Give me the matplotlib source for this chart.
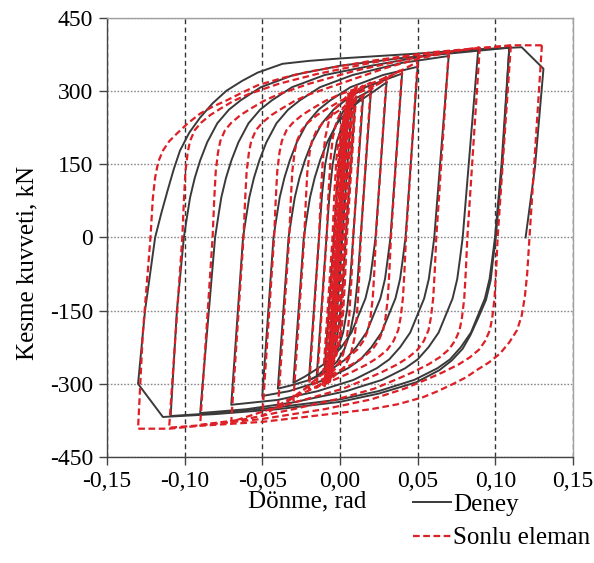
import matplotlib
matplotlib.use('Agg')
import matplotlib.pyplot as plt
from matplotlib.lines import Line2D

plt.rcParams['font.family'] = ['Liberation Serif', 'DejaVu Serif']

# ---------------- Deney (experiment) loops: rotation (rad), shear force (kN)
deney_00375_x = [0.0038, -0.0002, -0.0037, 0.0003, 0.0038]
deney_00375_y = [190, 5, -185, 0, 190]
deney_005_x = [0.005, 0.0005, -0.003, -0.005, -0.0005, 0.003, 0.005]
deney_005_y = [235, 20, -190, -230, -20, 195, 235]
deney_0075_x = [0.0075, 0.0015, -0.0018, -0.0045, -0.0075, -0.0015, 0.0018, 0.0045, 0.0075]
deney_0075_y = [270, 0, -150, -225, -262, 0, 150, 230, 270]
deney_01_x = [0.010, 0.0037, 0.0015, -0.0005, -0.003, -0.0065, -0.010, -0.0039, -0.0017, 0.0003, 0.003, 0.0065, 0.010]
deney_01_y = [285, 0, -110, -175, -220, -255, -275, 0, 110, 175, 222, 262, 285]
deney_015_x = [0.015, 0.0085, 0.0065, 0.0045, 0.002, -0.001, -0.005, -0.010, -0.015, -0.0087, -0.0067, -0.0047, -0.002, 0.001, 0.005, 0.010, 0.015]
deney_015_y = [292, 0, -90, -150, -195, -225, -250, -270, -285, 0, 90, 150, 197, 225, 252, 275, 292]
deney_02_x = [0.020, 0.0133, 0.0113, 0.0093, 0.0065, 0.003, -0.002, -0.010, -0.020, -0.0135, -0.0115, -0.0095, -0.0067, -0.003, 0.002, 0.010, 0.020]
deney_02_y = [302, 0, -90, -150, -195, -228, -255, -278, -292, 0, 90, 150, 197, 228, 258, 285, 302]
deney_03_x = [0.030, 0.0229, 0.0211, 0.0194, 0.0164, 0.0119, 0.0074, 0.0009, -0.0061, -0.0141, -0.0225, -0.030,
              -0.0233, -0.0213, -0.0193, -0.0163, -0.0128, -0.0083, -0.0018, 0.0057, 0.0132, 0.0220, 0.030]
deney_03_y = [318, 0, -45, -85, -125, -160, -195, -225, -250, -268, -285, -298,
              0, 42, 82, 122, 158, 195, 234, 262, 281, 300, 318]
deney_04_x = [0.040, 0.0325, 0.0307, 0.029, 0.026, 0.0215, 0.017, 0.0105, 0.0035, -0.0045, -0.0195, -0.030, -0.040,
              -0.0331, -0.0311, -0.0291, -0.0261, -0.0226, -0.0181, -0.0116, -0.0041, 0.0034, 0.0164, 0.028, 0.040]
deney_04_y = [336, 0, -45, -85, -125, -160, -195, -225, -250, -268, -292, -302, -310,
              0, 42, 82, 122, 158, 195, 234, 262, 281, 308, 322, 336]
deney_05_x = [0.050, 0.0422, 0.0404, 0.0387, 0.0357, 0.0312, 0.0267, 0.0202, 0.0132, 0.0052, -0.0098, -0.0328, -0.050,
              -0.0428, -0.0408, -0.0388, -0.0358, -0.0323, -0.0278, -0.0213, -0.0138, -0.0063, 0.0067, 0.0277, 0.050]
deney_05_y = [350, 0, -45, -85, -125, -160, -195, -225, -250, -268, -292, -315, -325,
              0, 42, 82, 122, 158, 195, 234, 262, 281, 308, 333, 350]
deney_07_x = [0.070, 0.0607, 0.0589, 0.0572, 0.0542, 0.0497, 0.0452, 0.0387, 0.0317, 0.0237, 0.0087, -0.0143, -0.040, -0.070,
              -0.0624, -0.0604, -0.0584, -0.0554, -0.0519, -0.0474, -0.0409, -0.0334, -0.0259, -0.0129, 0.0081, 0.040, 0.070]
deney_07_y = [372, 0, -45, -85, -125, -160, -195, -225, -250, -268, -292, -315, -333, -343,
              0, 42, 82, 122, 158, 195, 234, 262, 281, 308, 333, 358, 372]
deney_09_x = [0.089, 0.079, 0.0772, 0.0755, 0.0725, 0.068, 0.0635, 0.057, 0.050, 0.042, 0.027, 0.004, -0.030, -0.060, -0.090,
              -0.0804, -0.0784, -0.0764, -0.0734, -0.0699, -0.0654, -0.0589, -0.0514, -0.0439, -0.0309, -0.0099, 0.020, 0.060, 0.089]
deney_09_y = [386, 0, -45, -85, -125, -160, -195, -225, -250, -268, -292, -315, -338, -352, -360,
              0, 42, 82, 122, 158, 195, 234, 262, 281, 308, 333, 352, 375, 386]
deney_11_x = [0.109, 0.104, 0.0998, 0.098, 0.0963, 0.0933, 0.0888, 0.0843, 0.0778, 0.0708, 0.0628, 0.0478, 0.0248, 0.0, -0.040, -0.080, -0.109,
              -0.105, -0.1005, -0.0985, -0.0965, -0.0935, -0.090, -0.0855, -0.079, -0.0715, -0.064, -0.051, -0.030, 0.0, 0.040, 0.080, 0.109]
deney_11_y = [389, 150, 0, -45, -85, -125, -160, -195, -225, -250, -268, -292, -315, -332, -348, -360, -366,
              -150, 0, 42, 82, 122, 158, 195, 234, 262, 281, 308, 333, 352, 368, 380, 389]
deney_13_x = [0.109, 0.1045, 0.1003, 0.0985, 0.097, 0.094, 0.089, 0.084, 0.079, 0.072, 0.064, 0.049, 0.025, 0.0, -0.040, -0.080, -0.114,
              -0.130, -0.1255, -0.119, -0.115, -0.111, -0.107, -0.103, -0.097, -0.090, -0.082, -0.073, -0.063, -0.053, -0.037, -0.020,
              0.0, 0.050, 0.090, 0.117, 0.131, 0.1255, 0.1195]
deney_13_y = [389, 150, 0, -46, -88, -128, -165, -200, -228, -252, -272, -297, -320, -337, -352, -362, -368,
              -300, -150, 0, 50, 96, 140, 178, 215, 246, 275, 301, 321, 338, 356, 362,
              367, 377, 386, 390, 346, 143, 0]

# ---------------- Sonlu eleman (finite element) loops
sonlu_00375_x = [0.00375, 0.0, -0.00375, 0.0, 0.00375]
sonlu_00375_y = [200, 15, -195, -12, 200]
sonlu_005_x = [0.005, 0.0003, -0.0025, -0.005, -0.0003, 0.0025, 0.005]
sonlu_005_y = [262, 30, -170, -258, -28, 170, 262]
sonlu_005b_x = [0.0045, -0.0003, -0.003, -0.0058, -0.0009, 0.0019, 0.0045]
sonlu_005b_y = [258, 30, -170, -262, -28, 170, 258]
sonlu_005c_x = [0.0035, -0.0012, -0.004, -0.0065, -0.0018, 0.001, 0.0035]
sonlu_005c_y = [255, 30, -170, -262, -28, 170, 255]
sonlu_0075_x = [0.0075, 0.0013, 0.0, -0.0012, -0.004, -0.0075, -0.0013, 0.0, 0.0012, 0.004, 0.0075]
sonlu_0075_y = [300, 0, -75, -150, -235, -298, 0, 75, 152, 237, 300]
sonlu_0075b_x = [0.0085, 0.0023, 0.001, -0.0002, -0.003, -0.0065, -0.0003, 0.001, 0.0022, 0.005, 0.0085]
sonlu_0075b_y = [302, 0, -75, -150, -235, -296, 0, 75, 152, 237, 302]
sonlu_0075c_x = [0.0055, -0.0007, -0.002, -0.0032, -0.006, -0.0095, -0.0033, -0.002, -0.0008, 0.002, 0.0055]
sonlu_0075c_y = [296, 0, -75, -150, -235, -300, 0, 75, 152, 237, 296]
sonlu_0075d_x = [0.0065, 0.0003, -0.001, -0.0022, -0.005, -0.0085, -0.0023, -0.001, 0.0002, 0.003, 0.0065]
sonlu_0075d_y = [298, 0, -75, -150, -235, -302, 0, 75, 152, 237, 298]
sonlu_01_x = [0.010, 0.0036, 0.0024, 0.0011, -0.0005, -0.003, -0.0065, -0.010, -0.0036, -0.0024, -0.0011, 0.0005, 0.003, 0.0065, 0.010]
sonlu_01_y = [308, 0, -90, -160, -205, -240, -272, -305, 0, 90, 160, 205, 242, 275, 308]
sonlu_01b_x = [0.0088, 0.0024, 0.0012, -0.0001, -0.0017, -0.0042, -0.0077, -0.0112, -0.0048, -0.0036, -0.0023, -0.0007, 0.0018, 0.0053, 0.0088]
sonlu_01b_y = [300, 0, -90, -160, -205, -240, -272, -302, 0, 90, 160, 205, 242, 275, 300]
sonlu_01c_x = [0.0108, 0.0044, 0.0032, 0.0019, 0.0003, -0.0022, -0.0057, -0.0092, -0.0028, -0.0016, -0.0003, 0.0013, 0.0038, 0.0073, 0.0108]
sonlu_01c_y = [312, 0, -90, -160, -205, -240, -272, -300, 0, 90, 160, 205, 242, 275, 312]
sonlu_015_x = [0.015, 0.0085, 0.0073, 0.006, 0.0045, 0.002, -0.002, -0.008, -0.015, -0.0086, -0.0074, -0.0061, -0.0046, -0.002, 0.002, 0.008, 0.015]
sonlu_015_y = [312, 0, -90, -160, -205, -240, -265, -288, -308, 0, 90, 160, 205, 240, 265, 290, 312]
sonlu_02_x = [0.020, 0.0134, 0.0122, 0.0109, 0.0094, 0.0069, 0.0029, -0.004, -0.012, -0.020,
              -0.0135, -0.0123, -0.011, -0.0095, -0.007, -0.003, 0.004, 0.012, 0.020]
sonlu_02_y = [318, 0, -90, -160, -205, -240, -265, -285, -300, -313,
              0, 90, 160, 205, 240, 265, 288, 304, 318]
sonlu_03_x = [0.030, 0.0231, 0.0221, 0.0211, 0.0196, 0.0181, 0.0151, 0.0111, 0.0051, -0.002, -0.012, -0.021, -0.030,
              -0.023, -0.022, -0.021, -0.0195, -0.018, -0.015, -0.011, -0.005, 0.002, 0.011, 0.020, 0.030]
sonlu_03_y = [330, 0, -70, -125, -165, -190, -212, -230, -246, -262, -282, -305, -334,
              0, 75, 135, 175, 198, 220, 235, 251, 266, 283, 303, 330]
sonlu_04_x = [0.040, 0.0328, 0.0318, 0.0308, 0.0293, 0.0278, 0.0248, 0.0208, 0.0148, 0.0078, -0.0022, -0.0122, -0.025, -0.040,
              -0.0327, -0.0317, -0.0307, -0.0292, -0.0277, -0.0247, -0.0207, -0.0147, -0.0077, 0.0003, 0.0093, 0.025, 0.040]
sonlu_04_y = [345, 0, -70, -125, -165, -190, -212, -230, -246, -260, -276, -292, -315, -352,
              0, 75, 135, 175, 198, 220, 235, 251, 265, 280, 293, 315, 345]
sonlu_05_x = [0.050, 0.0425, 0.0415, 0.0405, 0.039, 0.0375, 0.0345, 0.0305, 0.0245, 0.0175, 0.0075, -0.0025, -0.0175, -0.035, -0.050,
              -0.0424, -0.0414, -0.0404, -0.0389, -0.0374, -0.0344, -0.0304, -0.0244, -0.0174, -0.0094, -0.0004, 0.0196, 0.035, 0.050]
sonlu_05_y = [360, 0, -70, -125, -165, -190, -212, -230, -246, -260, -276, -290, -310, -335, -366,
              0, 75, 135, 175, 198, 220, 235, 251, 265, 280, 293, 315, 335, 360]
sonlu_07_x = [0.070, 0.062, 0.061, 0.060, 0.0585, 0.057, 0.054, 0.050, 0.044, 0.037, 0.027, 0.017, 0.002, -0.020, -0.045, -0.070,
              -0.0621, -0.0611, -0.0601, -0.0586, -0.0571, -0.0541, -0.0501, -0.0441, -0.0371, -0.0291, -0.0201, -0.0001, 0.030, 0.050, 0.070]
sonlu_07_y = [380, 0, -70, -125, -165, -190, -212, -230, -246, -260, -276, -290, -310, -330, -352, -378,
              0, 75, 135, 175, 198, 220, 235, 251, 265, 280, 293, 315, 348, 366, 380]
sonlu_09_x = [0.090, 0.082, 0.081, 0.080, 0.0785, 0.077, 0.074, 0.070, 0.064, 0.057, 0.047, 0.037, 0.022, 0.0, -0.030, -0.060, -0.090,
              -0.082, -0.081, -0.080, -0.0785, -0.077, -0.074, -0.070, -0.064, -0.057, -0.049, -0.040, -0.020, 0.010, 0.050, 0.090]
sonlu_09_y = [390, 0, -70, -125, -165, -190, -212, -230, -246, -260, -276, -290, -310, -330, -352, -372, -384,
              0, 75, 135, 175, 198, 220, 235, 251, 265, 280, 293, 315, 342, 370, 390]
sonlu_11_x = [0.110, 0.1015, 0.1005, 0.0995, 0.098, 0.0965, 0.0935, 0.0895, 0.0835, 0.0765, 0.0665, 0.0565, 0.0415, 0.020, -0.010, -0.050, -0.090, -0.110,
              -0.1015, -0.1005, -0.0995, -0.098, -0.0965, -0.0935, -0.0895, -0.0835, -0.0765, -0.0685, -0.0595, -0.0395, -0.015, 0.020, 0.050, 0.090, 0.110]
sonlu_11_y = [393, 0, -70, -125, -165, -190, -212, -230, -246, -260, -276, -290, -310, -332, -352, -372, -385, -390,
              0, 75, 135, 175, 198, 220, 235, 251, 265, 280, 293, 315, 335, 358, 375, 388, 393]
sonlu_13_x = [0.130, 0.122, 0.1205, 0.119, 0.117, 0.114, 0.109, 0.103, 0.096, 0.088, 0.081, 0.073, 0.063, 0.053, 0.037, 0.020, -0.020, -0.050, -0.090, -0.110, -0.130,
              -0.127, -0.122, -0.1205, -0.119, -0.117, -0.114, -0.110, -0.105, -0.098, -0.090, -0.082, -0.073, -0.063, -0.053, -0.037, -0.020, 0.020, 0.060, 0.100, 0.110, 0.130]
sonlu_13_y = [394, 0, -75, -122, -160, -190, -215, -238, -256, -272, -287, -300, -315, -328, -342, -352, -367, -378, -386, -392, -392,
              -200, 0, 80, 123, 155, 178, 197, 213, 234, 254, 268, 281, 297, 312, 327, 340, 362, 380, 391, 394, 394]

x_ticks = [-0.15, -0.10, -0.05, 0.00, 0.05, 0.10, 0.15]
x_tick_labels = ['-0,15', '-0,10', '-0,05', '0,00', '0,05', '0,10', '0,15']
y_ticks = [-450, -300, -150, 0, 150, 300, 450]
y_tick_labels = ['-450', '-300', '-150', '0', '150', '300', '450']
x_label = 'Dönme, rad'
y_label = 'Kesme kuvveti, kN'
legend_labels = ['Deney', 'Sonlu eleman']

deney_loops = [
    (deney_00375_x, deney_00375_y), (deney_005_x, deney_005_y), (deney_0075_x, deney_0075_y),
    (deney_01_x, deney_01_y), (deney_015_x, deney_015_y), (deney_02_x, deney_02_y),
    (deney_03_x, deney_03_y), (deney_04_x, deney_04_y), (deney_05_x, deney_05_y),
    (deney_07_x, deney_07_y), (deney_09_x, deney_09_y), (deney_11_x, deney_11_y),
    (deney_13_x, deney_13_y),
]
sonlu_loops = [
    (sonlu_00375_x, sonlu_00375_y), (sonlu_005_x, sonlu_005_y), (sonlu_005b_x, sonlu_005b_y),
    (sonlu_005c_x, sonlu_005c_y),
    (sonlu_0075_x, sonlu_0075_y), (sonlu_0075b_x, sonlu_0075b_y), (sonlu_0075c_x, sonlu_0075c_y),
    (sonlu_0075d_x, sonlu_0075d_y),
    (sonlu_01_x, sonlu_01_y), (sonlu_01b_x, sonlu_01b_y), (sonlu_01c_x, sonlu_01c_y),
    (sonlu_015_x, sonlu_015_y),
    (sonlu_02_x, sonlu_02_y), (sonlu_03_x, sonlu_03_y), (sonlu_04_x, sonlu_04_y),
    (sonlu_05_x, sonlu_05_y), (sonlu_07_x, sonlu_07_y), (sonlu_09_x, sonlu_09_y),
    (sonlu_11_x, sonlu_11_y), (sonlu_13_x, sonlu_13_y),
]

BLACK = '#3a3a3a'
RED = '#dd1f26'
RED_DASH = (0, (3.0, 1.6))

fig = plt.figure(figsize=(5.94, 5.63), dpi=100)
ax = fig.add_axes([0.1801, 0.1883, 0.7845, 0.7798])
ax.set_xlim(-0.15, 0.15)
ax.set_ylim(-450, 450)

ax.set_axisbelow(True)
ax.xaxis.grid(True, linestyle=(0, (3.5, 2.5)), color='#333333', linewidth=1.0)
ax.yaxis.grid(True, linestyle=(0, (1.2, 1.2)), color='#8a8a8a', linewidth=1.0)

for lx, ly in deney_loops:
    ax.plot(lx, ly, color=BLACK, linewidth=1.4, solid_joinstyle='round')
for lx, ly in sonlu_loops:
    ax.plot(lx, ly, color=RED, linewidth=1.6, linestyle=RED_DASH)

ax.set_xticks(x_ticks)
ax.set_xticklabels(x_tick_labels)
ax.set_yticks(y_ticks)
ax.set_yticklabels(y_tick_labels)
ax.tick_params(axis='both', direction='out', length=6, width=1.0, color='#444444',
               labelsize=17, pad=4, top=False, right=False)

for side in ['left', 'bottom']:
    ax.spines[side].set_color('#444444')
    ax.spines[side].set_linewidth(1.0)
for side in ['top', 'right']:
    ax.spines[side].set_color('#a0a0a0')
    ax.spines[side].set_linewidth(1.0)

fig.text(307 / 594, 1 - 501 / 563, x_label, ha='center', va='center', fontsize=18)
fig.text(27 / 594, 1 - 263 / 563, y_label, ha='center', va='center', rotation=90, fontsize=18)

handles = [Line2D([0], [0], color=BLACK, linewidth=1.4),
           Line2D([0], [0], color=RED, linewidth=1.6, linestyle=RED_DASH)]
fig.legend(handles, legend_labels, loc='upper left', bbox_to_anchor=(413 / 594, 1 - 493 / 563),
           frameon=False, fontsize=18, handlelength=1.5, handletextpad=0.1,
           labelspacing=0.45, borderpad=0, borderaxespad=0)

fig.savefig('out.png', dpi=100)
